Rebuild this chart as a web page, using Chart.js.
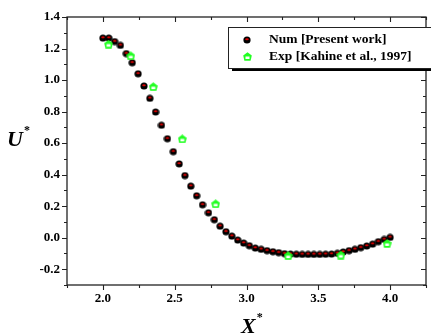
<!DOCTYPE html>
<html>
<head>
<meta charset="utf-8">
<script src="https://cdn.jsdelivr.net/npm/chart.js@4/dist/chart.umd.min.js"></script>
<style>
  html, body { margin: 0; padding: 0; background: #fff; }
  #wrap { width: 431px; height: 334px; }
</style>
</head>
<body>
<div id="wrap"><canvas id="c" width="431" height="334"></canvas></div>
<script>
// numerical results (present work)
const numX = [2.000, 2.041, 2.082, 2.122, 2.163, 2.204, 2.245, 2.286, 2.327, 2.367,
              2.408, 2.449, 2.490, 2.531, 2.571, 2.612, 2.653, 2.694, 2.735, 2.776,
              2.816, 2.857, 2.898, 2.939, 2.980, 3.020, 3.061, 3.102, 3.143, 3.184,
              3.224, 3.265, 3.306, 3.347, 3.388, 3.429, 3.469, 3.510, 3.551, 3.592,
              3.633, 3.673, 3.714, 3.755, 3.796, 3.837, 3.878, 3.918, 3.959, 4.000];
const numY = [1.266, 1.266, 1.244, 1.220, 1.168, 1.110, 1.040, 0.962, 0.884, 0.797,
              0.713, 0.628, 0.546, 0.468, 0.394, 0.327, 0.266, 0.209, 0.158, 0.114,
              0.073, 0.038, 0.010, -0.015, -0.034, -0.051, -0.066, -0.074, -0.082, -0.089,
              -0.095, -0.101, -0.104, -0.105, -0.106, -0.106, -0.106, -0.106, -0.105, -0.104,
              -0.099, -0.091, -0.082, -0.074, -0.063, -0.053, -0.041, -0.025, -0.011, 0.002];

// experimental data (Kahine et al., 1997)
const expX = [2.039, 2.194, 2.351, 2.553, 2.785, 3.290, 3.657, 3.979];
const expY = [1.228, 1.154, 0.958, 0.627, 0.215, -0.114, -0.110, -0.036];

const seriesLabels = ["Num [Present work]", "Exp [Kahine et al., 1997]"];
const xTicks = [2.0, 2.5, 3.0, 3.5, 4.0];
const xMinor = [1.75, 2.25, 2.75, 3.25, 3.75, 4.25];
const yTicks = [-0.2, 0.0, 0.2, 0.4, 0.6, 0.8, 1.0, 1.2, 1.4];
const yMinor = [-0.3, -0.1, 0.1, 0.3, 0.5, 0.7, 0.9, 1.1, 1.3];

const SERIF = '"Liberation Serif", "Times New Roman", serif';

// marker images
function numMarker() {
  const c = document.createElement('canvas');
  c.width = 8; c.height = 8;
  const g = c.getContext('2d');
  g.fillStyle = '#000';
  g.beginPath(); g.arc(4, 4, 3.6, 0, Math.PI * 2); g.fill();
  g.fillStyle = '#e00000';
  g.beginPath(); g.ellipse(4, 3.2, 1.8, 1.0, 0, 0, Math.PI * 2); g.fill();
  return c;
}
function expMarker() {
  const c = document.createElement('canvas');
  c.width = 9; c.height = 9;
  const g = c.getContext('2d');
  g.fillStyle = '#22ff22';
  g.beginPath();
  g.moveTo(4.5, 0.3); g.lineTo(8.8, 3.6); g.lineTo(7.6, 8.7);
  g.lineTo(1.4, 8.7); g.lineTo(0.2, 3.6); g.closePath(); g.fill();
  g.fillStyle = '#fff';
  g.fillRect(2.5, 4.5, 4, 2.5);
  return c;
}
const numImg = numMarker();
const expImg = expMarker();

function starTitle(ctx, letter, x, y) {
  ctx.font = 'italic bold 22px ' + SERIF;
  ctx.fillText(letter, x, y);
  const w = ctx.measureText(letter).width;
  ctx.font = 'bold 12px ' + SERIF;
  ctx.fillText('*', x + w + 1, y - 12);
}

const frame = {
  id: 'frame',
  afterDraw(chart) {
    const ctx = chart.ctx;
    const a = chart.chartArea;
    const xs = chart.scales.x, ys = chart.scales.y;
    ctx.save();
    ctx.strokeStyle = '#222';
    ctx.lineWidth = 1.3;
    ctx.strokeRect(a.left, a.top, a.right - a.left, a.bottom - a.top);
    ctx.lineWidth = 1.1;
    ctx.beginPath();
    const tx = (v, len) => {
      const p = Math.round(xs.getPixelForValue(v)) + 0.5;
      ctx.moveTo(p, a.bottom); ctx.lineTo(p, a.bottom + len);
      ctx.moveTo(p, a.top); ctx.lineTo(p, a.top + len);
    };
    const ty = (v, len) => {
      const p = Math.round(ys.getPixelForValue(v)) + 0.5;
      ctx.moveTo(a.left, p); ctx.lineTo(a.left - len, p);
      ctx.moveTo(a.right, p); ctx.lineTo(a.right - len, p);
    };
    xTicks.forEach(v => tx(v, 5));
    xMinor.forEach(v => tx(v, 3));
    yTicks.forEach(v => ty(v, 5));
    yMinor.forEach(v => ty(v, 3));
    ctx.stroke();

    // axis titles
    ctx.fillStyle = '#000';
    ctx.textBaseline = 'alphabetic';
    ctx.textAlign = 'left';
    starTitle(ctx, 'U', 7, 146);
    starTitle(ctx, 'X', 241, 333);

    // legend
    const lx = 228, ly = 27, lw = 210, lh = 41;
    ctx.fillStyle = '#000';
    ctx.fillRect(lx + 4, ly + lh, lw, 3);
    ctx.fillStyle = '#fff';
    ctx.fillRect(lx, ly, lw, lh);
    ctx.strokeStyle = '#222';
    ctx.lineWidth = 1;
    ctx.strokeRect(lx + 0.5, ly + 0.5, lw, lh);
    ctx.drawImage(numImg, 243, 36);
    ctx.drawImage(expImg, 243, 52);
    ctx.fillStyle = '#000';
    ctx.font = 'bold 13.5px ' + SERIF;
    ctx.textBaseline = 'middle';
    ctx.fillText(seriesLabels[0], 269, 40);
    ctx.fillText(seriesLabels[1], 269, 57);
    ctx.restore();
  }
};

new Chart(document.getElementById('c'), {
  type: 'scatter',
  data: {
    datasets: [
      {
        label: seriesLabels[0],
        data: numX.map((x, i) => ({ x: x, y: numY[i] })),
        pointStyle: numImg,
        pointRadius: 4,
        order: 2
      },
      {
        label: seriesLabels[1],
        data: expX.map((x, i) => ({ x: x, y: expY[i] })),
        pointStyle: expImg,
        pointRadius: 4,
        order: 1
      }
    ]
  },
  options: {
    responsive: false,
    animation: false,
    events: [],
    layout: { padding: { left: 0, top: 17, right: 4, bottom: 0 } },
    plugins: { legend: { display: false }, tooltip: { enabled: false } },
    scales: {
      x: {
        type: 'linear', min: 1.75, max: 4.25,
        afterBuildTicks: s => { s.ticks = xTicks.map(v => ({ value: v })); },
        afterFit: s => { s.height = 49; },
        grid: { display: false, drawTicks: false },
        border: { display: false },
        ticks: {
          padding: 6, color: '#000',
          font: { family: SERIF, size: 13, weight: 'bold' },
          callback: v => v.toFixed(1)
        }
      },
      y: {
        type: 'linear', min: -0.3, max: 1.4,
        afterBuildTicks: s => { s.ticks = yTicks.map(v => ({ value: v })); },
        afterFit: s => { s.width = 67; },
        grid: { display: false, drawTicks: false },
        border: { display: false },
        ticks: {
          padding: 7, color: '#000',
          font: { family: SERIF, size: 13, weight: 'bold' },
          callback: v => v.toFixed(1)
        }
      }
    }
  },
  plugins: [frame]
});
</script>
</body>
</html>
